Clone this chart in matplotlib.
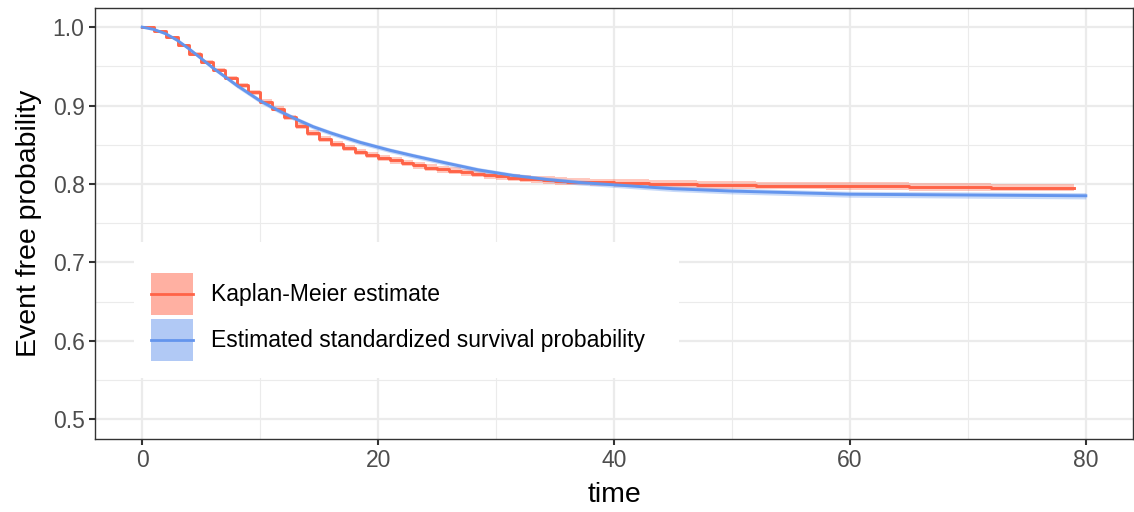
import matplotlib
matplotlib.use("Agg")
import matplotlib.pyplot as plt
from matplotlib.patches import Patch, Rectangle
from matplotlib.lines import Line2D
from matplotlib.legend_handler import HandlerLine2D
from matplotlib.ticker import MultipleLocator
import numpy as np

plt.rcParams['font.family'] = ['Liberation Sans', 'DejaVu Sans']

# Kaplan-Meier estimate (step function) with pointwise band half-width
km_time = [0, 1, 2, 3, 4, 5, 6, 7, 8, 9, 10, 11, 12, 13, 14, 15, 16, 17, 18, 19,
           20, 21, 22, 23, 24, 25, 26, 27, 28, 29, 30, 31, 32, 33, 34, 35, 36,
           38, 40, 43, 47, 52, 58, 65, 72, 79]
km_surv = [1.000, 0.9945, 0.987, 0.977, 0.966, 0.955, 0.945, 0.935, 0.926, 0.917,
           0.905, 0.896, 0.885, 0.874, 0.865, 0.857, 0.851, 0.846, 0.841, 0.837,
           0.833, 0.830, 0.827, 0.824, 0.821, 0.819, 0.817, 0.815, 0.813, 0.811,
           0.810, 0.808, 0.807, 0.806, 0.805, 0.804, 0.803,
           0.802, 0.801, 0.800, 0.799, 0.798, 0.797, 0.796, 0.7955, 0.795]
km_halfwidth = [0.000, 0.001, 0.0015, 0.002, 0.002, 0.0025, 0.0025, 0.003, 0.003, 0.003,
                0.003, 0.0033, 0.0035, 0.0035, 0.0037, 0.0038, 0.004, 0.004, 0.004, 0.004,
                0.004, 0.0042, 0.0042, 0.0043, 0.0043, 0.0044, 0.0044, 0.0045, 0.0045, 0.0045,
                0.0045, 0.0046, 0.0046, 0.0046, 0.0047, 0.0047, 0.0047,
                0.0048, 0.0048, 0.0048, 0.0049, 0.0049, 0.005, 0.005, 0.005, 0.005]

# Estimated standardized survival probability with band half-width
std_time = [0, 1, 2, 3, 4, 5, 6, 7, 8, 9, 10, 11.5, 13, 14.5, 16, 18.5, 21, 23, 25.7,
            28.5, 31.4, 34.2, 37, 40, 45, 50, 55, 60, 70, 80]
std_surv = [1.000, 0.997, 0.9915, 0.983, 0.972, 0.960, 0.948, 0.937, 0.926, 0.916,
            0.906, 0.894, 0.883, 0.873, 0.865, 0.853, 0.843, 0.836, 0.827,
            0.818, 0.811, 0.806, 0.802, 0.799, 0.794, 0.791, 0.789, 0.787, 0.786, 0.785]
std_halfwidth = [0.000, 0.0005, 0.001, 0.0015, 0.002, 0.002, 0.0025, 0.0025, 0.003, 0.003,
                 0.003, 0.003, 0.003, 0.003, 0.003, 0.003, 0.003, 0.003, 0.003,
                 0.003, 0.003, 0.003, 0.0032, 0.0033, 0.0035, 0.0036, 0.0037, 0.0038, 0.004, 0.004]

km_label = "Kaplan-Meier estimate"
std_label = "Estimated standardized survival probability"
x_ticks = [0, 20, 40, 60, 80]
y_ticks = [0.5, 0.6, 0.7, 0.8, 0.9, 1.0]

red = "#FF6347"
blue = "#6495ED"


class CenteredLineHandler(HandlerLine2D):
    """Legend line drawn through the vertical middle of the key box."""

    def create_artists(self, legend, orig_handle, xdescent, ydescent,
                       width, height, fontsize, trans):
        artists = super().create_artists(legend, orig_handle, xdescent, ydescent,
                                         width, height, fontsize, trans)
        for a in artists:
            xd = a.get_xdata()
            a.set_xdata(np.array([-xdescent + 0.07 * width, -xdescent + 0.93 * width])
                        if len(xd) == 2 else xd)
            a.set_ydata(np.full(len(a.get_xdata()), height / 2 - ydescent))
        return artists


W, H = 1134, 512
fig = plt.figure(figsize=(W / 100, H / 100), dpi=100)
ax = fig.add_axes([95 / W, (H - 439) / H, (1133 - 95) / W, (439 - 7.5) / H])

km_t = np.array(km_time)
km_s = np.array(km_surv)
km_h = np.array(km_halfwidth)
st_t = np.array(std_time)
st_s = np.array(std_surv)
st_h = np.array(std_halfwidth)

ax.fill_between(km_t, km_s - km_h, km_s + km_h, step='post',
                color=red, alpha=0.35, lw=0, zorder=2)
ax.fill_between(st_t, st_s - st_h, st_s + st_h,
                color=blue, alpha=0.35, lw=0, zorder=2)
ax.step(km_t, km_s, where='post', color=red, lw=2.1, zorder=3)
ax.plot(st_t, st_s, color=blue, lw=2.1, zorder=3)

ax.set_xlim(-4, 84)
ax.set_ylim(0.475, 1.025)
ax.set_xticks(x_ticks)
ax.set_yticks(y_ticks)
ax.set_yticklabels([f"{v:.1f}" for v in y_ticks])
ax.xaxis.set_minor_locator(MultipleLocator(10))
ax.yaxis.set_minor_locator(MultipleLocator(0.05))

ax.grid(which='major', color='#EBEBEB', lw=1.6, zorder=0)
ax.grid(which='minor', color='#EBEBEB', lw=0.8, zorder=0)
ax.set_axisbelow(True)
for sp in ax.spines.values():
    sp.set_color('#333333')
    sp.set_linewidth(1.0)
ax.tick_params(which='major', length=4.5, width=1.5, color='#333333',
               labelcolor='#4D4D4D', labelsize=16.5, pad=3)
ax.tick_params(which='minor', length=0)

ax.set_xlabel("time", fontsize=20.5, color='black', labelpad=7)
ax.set_ylabel("Event free probability", fontsize=20.5, color='black', labelpad=8)

# legend background box
ax.add_patch(Rectangle(((134 - 95) / 1038, (439 - 378) / 431.5),
                       (679 - 134) / 1038, (378 - 242) / 431.5,
                       transform=ax.transAxes, facecolor='white',
                       edgecolor='none', zorder=4))

handles = [
    (Patch(facecolor=red, alpha=0.5, edgecolor='none'), Line2D([], [], color=red, lw=2.0)),
    (Patch(facecolor=blue, alpha=0.5, edgecolor='none'), Line2D([], [], color=blue, lw=2.0)),
]
leg = ax.legend(handles, [km_label, std_label], loc='upper left',
                bbox_to_anchor=((150.7 - 95) / 1038, (439 - 273) / 431.5),
                borderaxespad=0, borderpad=0, frameon=False, fontsize=16.5,
                handlelength=1.85, handleheight=2.45, handletextpad=0.76,
                labelspacing=0.18, handler_map={Line2D: CenteredLineHandler()})
leg.set_zorder(5)

fig.savefig("out.png", dpi=100)
